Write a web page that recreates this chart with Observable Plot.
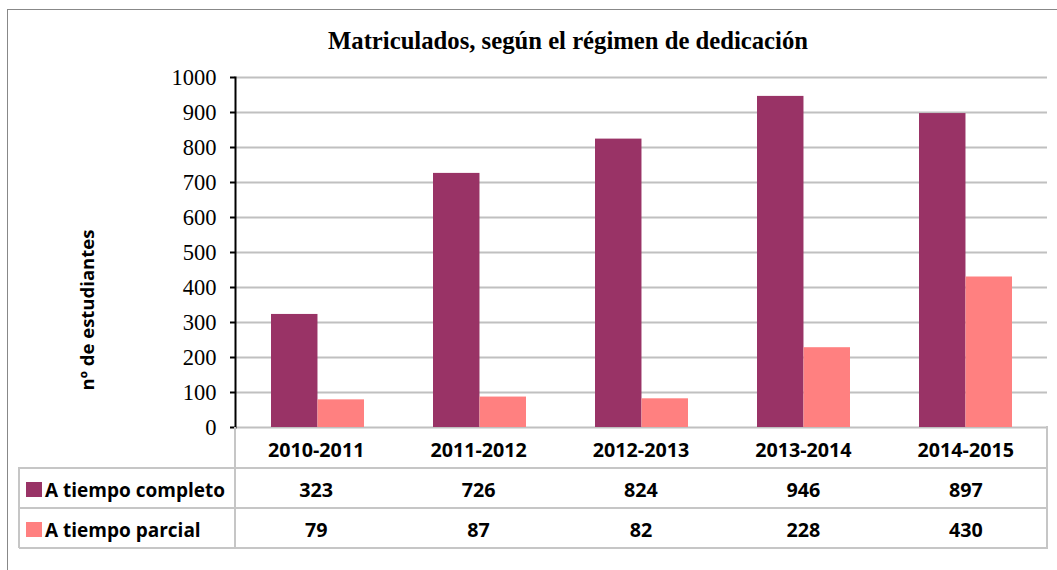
<!DOCTYPE html>
<html>
<head>
<meta charset="utf-8">
<script src="https://cdn.jsdelivr.net/npm/d3@7"></script>
<script src="https://cdn.jsdelivr.net/npm/@observablehq/plot@0.6"></script>
<style>
  html, body { margin: 0; padding: 0; background: #fff; }
  #wrap { position: relative; width: 1057px; height: 570px; overflow: hidden; background: #fff; }
  #border { position: absolute; left: 7px; top: 9px; width: 1200px; height: 700px; border: 1px solid #888; box-sizing: border-box; }
  #title { position: absolute; left: 0; top: 26px; width: 1136px; text-align: center; font-family: "Liberation Serif", serif; font-weight: bold; font-size: 24.7px; line-height: 30px; color: #000; }
  #chart { position: absolute; left: 0; top: 0; }
  #ylabel { position: absolute; left: 86px; top: 310px; transform: translate(-50%, -50%) rotate(-90deg); white-space: nowrap; font-family: "Open Sans", sans-serif; font-weight: bold; font-size: 18.5px; color: #000; }
  .tbl { position: absolute; font-family: "Open Sans", sans-serif; font-weight: bold; font-size: 19.7px; color: #000; }
  .cell { position: absolute; text-align: center; white-space: nowrap; }
  .line { position: absolute; background: #c6c6c6; }
  .leg { font-size: 19px; }
  .sw { display: inline-block; width: 16px; height: 15px; vertical-align: middle; margin-right: 3px; position: relative; top: -2px; }
</style>
</head>
<body>
<div id="wrap">
  <div id="border"></div>
  <div id="chart"></div>
  <div id="title"></div>
  <div id="ylabel"></div>
  <div id="table" class="tbl"></div>
</div>
<script>
const titleText = "Matriculados, según el régimen de dedicación";
const yLabelText = "nº de estudiantes";
const categories = ["2010-2011", "2011-2012", "2012-2013", "2013-2014", "2014-2015"];
const seriesNames = ["A tiempo completo", "A tiempo parcial"];
const completo = [323, 726, 824, 946, 897];
const parcial = [79, 87, 82, 228, 430];
const yTicks = [0, 100, 200, 300, 400, 500, 600, 700, 800, 900, 1000];
const colors = ["#993366", "#FF8080"];

document.getElementById("title").textContent = titleText;
document.getElementById("ylabel").textContent = yLabelText;

const seriesValues = [completo, parcial];
const data = [];
seriesNames.forEach((s, si) => categories.forEach((c, ci) => data.push({cat: c, series: s, value: seriesValues[si][ci]})));

const plotLeft = 235, plotRight = 1047, W = 1057;
const step = (plotRight - plotLeft) / categories.length;
const pInner = 0.427, pOuter = pInner / 2;
const half = step * (1 - pInner) / 2;

const chart = Plot.plot({
  width: W,
  height: 445,
  marginTop: 77,
  marginBottom: 18,
  marginLeft: plotLeft,
  marginRight: W - plotRight,
  x: {domain: categories, paddingInner: pInner, paddingOuter: pOuter, axis: null},
  y: {domain: [0, 1000], axis: null},
  marks: [
    Plot.ruleY(yTicks, {stroke: "#c0c0c0", strokeWidth: 2}),
    Plot.barY(data.filter(d => d.series === seriesNames[0]), {x: "cat", y: "value", fill: colors[0], insetRight: half}),
    Plot.barY(data.filter(d => d.series === seriesNames[1]), {x: "cat", y: "value", fill: colors[1], insetLeft: half}),
    Plot.axisY({ticks: yTicks, tickSize: 5, tickPadding: 14, tickFormat: d => String(d), fontFamily: "Liberation Serif", fontSize: 22.5, stroke: "#000", strokeWidth: 2, label: null}),
    Plot.frame({anchor: "left", stroke: "#000", strokeWidth: 2})
  ]
});
document.getElementById("chart").appendChild(chart);

// data table below the chart
const tbl = document.getElementById("table");
const tLeft = 19, tTop = 427, rowH = [41, 40, 40];
tbl.style.left = "0px"; tbl.style.top = "0px";
function addLine(x, y, w, h) {
  const d = document.createElement("div");
  d.className = "line";
  Object.assign(d.style, {left: x + "px", top: y + "px", width: w + "px", height: h + "px"});
  tbl.appendChild(d);
}
function addCell(x, y, w, h, html) {
  const d = document.createElement("div");
  d.className = "cell";
  Object.assign(d.style, {left: x + "px", top: (y + 2) + "px", width: w + "px", height: h + "px", lineHeight: h + "px"});
  d.innerHTML = html;
  tbl.appendChild(d);
  return d;
}
const y1 = tTop + rowH[0], y2 = y1 + rowH[1], y3 = y2 + rowH[2];
addLine(tLeft, y1 - 1, plotRight - tLeft + 1, 2);
addLine(tLeft, y2 - 1, plotRight - tLeft + 1, 2);
addLine(tLeft, y3 - 1, plotRight - tLeft + 1, 2);
addLine(tLeft - 1, y1 - 1, 2, y3 - y1 + 1);
addLine(plotLeft - 1, tTop, 2, y3 - tTop + 1);
addLine(plotRight - 1, tTop - 1, 2, y3 - tTop + 2);
categories.forEach((c, i) => {
  const x = plotLeft + i * step;
  addCell(x, tTop, step, rowH[0], c);
  addCell(x, y1, step, rowH[1], String(completo[i]));
  addCell(x, y2, step, rowH[2], String(parcial[i]));
});
[y1, y2].forEach((yy, si) => {
  const c = addCell(tLeft + 7, yy, plotLeft - tLeft - 7, rowH[si + 1],
    '<span class="sw" style="background:' + colors[si] + '"></span>' + seriesNames[si]);
  c.style.textAlign = "left";
  c.classList.add("leg");
});
</script>
</body>
</html>
